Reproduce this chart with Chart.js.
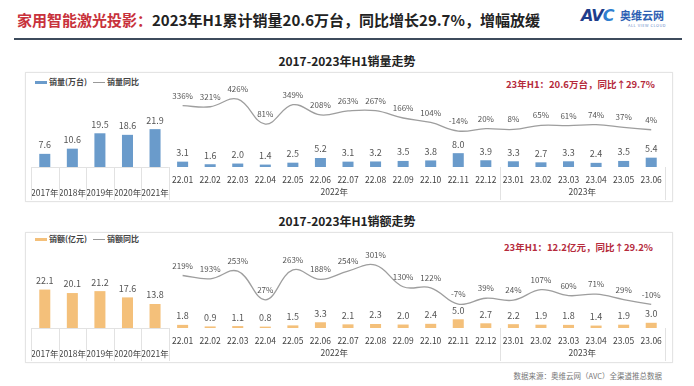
<!DOCTYPE html>
<html>
<head>
<meta charset="utf-8">
<script src="https://cdn.jsdelivr.net/npm/chart.js@4.4.6/dist/chart.umd.min.js"></script>
<style>
  body { margin: 0; width: 694px; height: 386px; background: #fff; position: relative; overflow: hidden;
         font-family: "Noto Sans CJK SC", "Noto Sans", sans-serif; }
  .abs { position: absolute; white-space: nowrap; }
  #title { left: 17px; top: 9px; font-size: 15px; font-weight: 700; color: #222; }
  #title .red { color: #c8323c; }
  #rule { left: 14px; top: 38px; width: 668px; height: 2px; background: #3d4b5c; }
  .panel { position: absolute; left: 25px; width: 646px; border: 1px solid #e4e4e4; box-shadow: 0 0 2px rgba(0,0,0,.05); }
  .sub { left: 0; width: 694px; text-align: center; font-size: 12px; font-weight: 700; color: #222; }
  .lg { font-size: 8px; font-weight: 700; color: #444; }
  .sw { position: absolute; height: 3px; width: 12px; }
  .note { font-size: 9.5px; font-weight: 700; color: #b52a3c; }
  canvas { position: absolute; left: 0; }
</style>
</head>
<body>
<div id="title" class="abs"><span class="red">家用智能激光投影：</span>2023年H1累计销量20.6万台，同比增长29.7%，增幅放缓</div>
<div id="rule" class="abs"></div>

<!-- logo -->
<div class="abs" style="left:581px;top:6px;font:italic 900 16px 'DejaVu Sans',sans-serif;color:#1f3d8c;letter-spacing:-1px;">AV<span style="color:#2f7fd0">C</span></div>
<div class="abs" style="left:620px;top:7px;font-size:11px;font-weight:700;color:#2d5fb3;">奥维云网</div>
<div class="abs" style="left:628px;top:22px;font-size:4px;color:#6a8cc8;letter-spacing:.5px;">ALL VIEW CLOUD</div>

<div class="sub abs" style="top:52px;">2017-2023年H1销量走势</div>
<div class="panel" style="top:72px;height:128px;"></div>
<div class="sw" style="left:35px;top:81px;background:#6a9bcb;"></div>
<div class="lg abs" style="left:49px;top:76px;">销量(万台)</div>
<div class="sw" style="left:93px;top:82px;height:1px;background:#999;"></div>
<div class="lg abs" style="left:107px;top:76px;">销量同比</div>
<div class="note abs" style="left:506px;top:77px;">23年H1：20.6万台，同比↑29.7%</div>
<canvas id="c1" width="694" height="129" style="top:72px;"></canvas>

<div class="sub abs" style="top:212px;">2017-2023年H1销额走势</div>
<div class="panel" style="top:232px;height:129px;"></div>
<div class="sw" style="left:35px;top:238px;background:#f4c07a;"></div>
<div class="lg abs" style="left:49px;top:233px;">销额(亿元)</div>
<div class="sw" style="left:93px;top:239px;height:1px;background:#999;"></div>
<div class="lg abs" style="left:107px;top:233px;">销额同比</div>
<div class="note abs" style="left:504px;top:240px;">23年H1：12.2亿元，同比↑29.2%</div>
<canvas id="c2" width="694" height="130" style="top:232px;"></canvas>

<div class="abs" style="right:32px;top:370px;font-size:7.5px;color:#777;">数据来源：奥维云网（AVC）全渠道推总数据</div>

<script>
// categories: 5 full years then H1 months
const categories = ["2017年", "2018年", "2019年", "2020年", "2021年",
  "22.01", "22.02", "22.03", "22.04", "22.05", "22.06", "22.07", "22.08", "22.09", "22.10", "22.11", "22.12",
  "23.01", "23.02", "23.03", "23.04", "23.05", "23.06"];
const yearCount = 5;

const groupNames = ["2022年", "2023年"];
const groupFirst = [5, 17];
const groupLast = [16, 22];

// 销量 (万台) and its YoY %
const volume = [7.6, 10.6, 19.5, 18.6, 21.9,
  3.1, 1.6, 2.0, 1.4, 2.5, 5.2, 3.1, 3.2, 3.5, 3.8, 8.0, 3.9,
  3.3, 2.7, 3.3, 2.4, 3.5, 5.4];
const volumeYoY = [null, null, null, null, null,
  336, 321, 426, 81, 349, 208, 263, 267, 166, 104, -14, 20,
  8, 65, 61, 74, 37, 4];

// 销额 (亿元) and its YoY %
const revenue = [22.1, 20.1, 21.2, 17.6, 13.8,
  1.8, 0.9, 1.1, 0.8, 1.5, 3.3, 2.1, 2.3, 2.0, 2.4, 5.0, 2.7,
  2.2, 1.9, 1.8, 1.4, 1.9, 3.0];
const revenueYoY = [null, null, null, null, null,
  219, 193, 253, 27, 263, 188, 254, 301, 130, 122, -7, 39,
  24, 107, 60, 71, 29, -10];

const FONT = '"Noto Sans CJK SC", "Noto Sans", sans-serif';

// value labels above bars and line points
const valueLabels = {
  id: "valueLabels",
  afterDatasetsDraw(chart) {
    const ctx = chart.ctx;
    ctx.save();
    ctx.textAlign = "center";
    ctx.textBaseline = "middle";
    chart.data.datasets.forEach((ds, di) => {
      const meta = chart.getDatasetMeta(di);
      const isBar = ds.type === "bar";
      ctx.font = `${isBar ? 9 : 8}px ${FONT}`;
      ctx.fillStyle = "#555";
      meta.data.forEach((el, i) => {
        const v = ds.data[i];
        if (v == null) return;
        const txt = isBar ? v.toFixed(1) : v + "%";
        ctx.fillText(txt, el.x, el.y - (isBar ? 9 : 10));
      });
    });
    ctx.restore();
  }
};

// table lines under the axis and the 2022年 / 2023年 group labels
const axisTable = {
  id: "axisTable",
  afterDraw(chart) {
    const { ctx, chartArea } = chart;
    const x = chart.scales.x;
    const w = x.getPixelForValue(1) - x.getPixelForValue(0);
    const edge = i => x.getPixelForValue(i) - w / 2;
    const top = chartArea.bottom, bottom = chart.height - 1;
    ctx.save();
    ctx.strokeStyle = "#e2e2e2";
    ctx.lineWidth = 1;
    ctx.beginPath();
    for (let i = 0; i <= yearCount; i++) {
      ctx.moveTo(Math.round(edge(i)) + 0.5, top);
      ctx.lineTo(Math.round(edge(i)) + 0.5, bottom);
    }
    ctx.moveTo(edge(0), top + 0.5);
    ctx.lineTo(edge(yearCount), top + 0.5);
    [groupFirst[1], categories.length].forEach(i => {
      ctx.moveTo(Math.round(edge(i)) + 0.5, top);
      ctx.lineTo(Math.round(edge(i)) + 0.5, bottom);
    });
    ctx.stroke();
    ctx.fillStyle = "#444";
    ctx.font = `8.5px ${FONT}`;
    ctx.textAlign = "center";
    ctx.textBaseline = "middle";
    groupNames.forEach((g, k) => {
      const cx = (edge(groupFirst[k]) + edge(groupLast[k] + 1)) / 2;
      ctx.fillText(g, cx, top + 25);
    });
    ctx.restore();
  }
};

function makeChart(id, bars, yoy, barColor, barMax, lineMin, lineMax, barLabel, lineLabel) {
  return new Chart(document.getElementById(id), {
    data: {
      labels: categories,
      datasets: [
        {
          type: "line", label: lineLabel, data: yoy, yAxisID: "y2",
          borderColor: "#9e9e9e", borderWidth: 1.3, tension: 0.4,
          pointRadius: 0, fill: false, order: 0,
        },
        {
          type: "bar", label: barLabel, data: bars, yAxisID: "y",
          backgroundColor: barColor, categoryPercentage: 1, barPercentage: 0.4, order: 1,
        },
      ]
    },
    options: {
      responsive: false,
      animation: false,
      layout: { padding: { left: 31, right: 29, top: 12, bottom: 0 } },
      plugins: { legend: { display: false }, tooltip: { enabled: false } },
      scales: {
        x: {
          type: "category",
          offset: true,
          grid: { display: false, drawTicks: false },
          border: { display: false },
          ticks: {
            autoSkip: false, maxRotation: 0, minRotation: 0, padding: 6,
            color: "#444",
            font: { family: FONT, size: 8.5, lineHeight: 13 / 8.5 },
            callback: (v, i) => i < yearCount ? ["", categories[i]] : [categories[i], ""],
          },
          afterFit: s => { s.height = 34; },
        },
        y: { display: false, min: 0, max: barMax },
        y2: { display: false, min: lineMin, max: lineMax },
      }
    },
    plugins: [valueLabels, axisTable],
  });
}

makeChart("c1", volume, volumeYoY, "#6a9bcb", 48, -510, 635, "销量(万台)", "销量同比");
makeChart("c2", revenue, revenueYoY, "#f4c07a", 48.3, -196, 468, "销额(亿元)", "销额同比");
</script>
</body>
</html>
